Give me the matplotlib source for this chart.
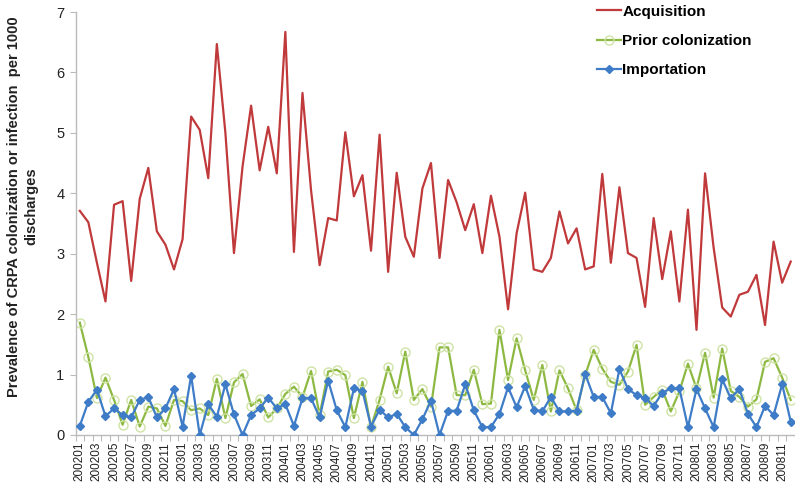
import matplotlib
matplotlib.use("Agg")
import matplotlib.pyplot as plt
import numpy as np

plt.rcParams['font.family'] = ['Liberation Sans', 'DejaVu Sans']

months = [f"{y}{m:02d}" for y in range(2002, 2009) for m in range(1, 13)]

acquisition = [3.71, 3.52, 2.85, 2.21, 3.81, 3.87, 2.55, 3.91, 4.42, 3.37, 3.15, 2.74,
               3.24, 5.27, 5.05, 4.25, 6.47, 5.00, 3.01, 4.44, 5.45, 4.38, 5.10, 4.33,
               6.67, 3.03, 5.66, 4.05, 2.81, 3.59, 3.55, 5.01, 3.95, 4.30, 3.05, 4.97,
               2.70, 4.34, 3.28, 2.95, 4.08, 4.50, 2.93, 4.22, 3.85, 3.39, 3.82, 3.01,
               3.96, 3.28, 2.08, 3.34, 4.01, 2.74, 2.70, 2.93, 3.70, 3.17, 3.42, 2.74,
               2.79, 4.32, 2.85, 4.10, 3.01, 2.93, 2.12, 3.59, 2.58, 3.37, 2.21, 3.73,
               1.74, 4.33, 3.10, 2.11, 1.96, 2.32, 2.37, 2.65, 1.82, 3.20, 2.52, 2.87]

prior_colonization = [1.86, 1.29, 0.61, 0.95, 0.58, 0.17, 0.58, 0.14, 0.47, 0.44, 0.15, 0.58,
                      0.56, 0.41, 0.44, 0.33, 0.93, 0.28, 0.87, 1.01, 0.48, 0.59, 0.29, 0.44,
                      0.68, 0.80, 0.63, 1.06, 0.33, 1.05, 1.08, 0.99, 0.28, 0.88, 0.13, 0.58,
                      1.13, 0.69, 1.38, 0.58, 0.76, 0.47, 1.45, 1.45, 0.66, 0.66, 1.08, 0.51,
                      0.52, 1.74, 0.91, 1.60, 1.07, 0.58, 1.16, 0.39, 1.07, 0.77, 0.41, 0.99,
                      1.41, 1.10, 0.88, 0.83, 1.05, 1.49, 0.50, 0.63, 0.75, 0.39, 0.72, 1.18,
                      0.77, 1.36, 0.62, 1.43, 0.73, 0.63, 0.47, 0.59, 1.21, 1.27, 0.95, 0.58]

importation = [0.15, 0.55, 0.75, 0.31, 0.44, 0.33, 0.29, 0.58, 0.63, 0.29, 0.44, 0.76,
               0.14, 0.98, 0.00, 0.51, 0.30, 0.84, 0.34, 0.00, 0.33, 0.44, 0.62, 0.44,
               0.51, 0.15, 0.61, 0.61, 0.29, 0.90, 0.41, 0.13, 0.77, 0.73, 0.14, 0.42,
               0.29, 0.35, 0.13, 0.00, 0.26, 0.57, 0.00, 0.40, 0.40, 0.84, 0.41, 0.13,
               0.13, 0.35, 0.79, 0.46, 0.81, 0.42, 0.39, 0.63, 0.39, 0.39, 0.40, 1.01,
               0.63, 0.63, 0.36, 1.09, 0.76, 0.66, 0.61, 0.48, 0.70, 0.77, 0.77, 0.13,
               0.76, 0.44, 0.13, 0.92, 0.61, 0.76, 0.35, 0.13, 0.48, 0.33, 0.84, 0.22]

series_names = ["Acquisition", "Prior colonization", "Importation"]
y_label = "Prevalence of CRPA colonization or infection  per 1000\ndischarges"

fig = plt.figure(figsize=(7.95, 4.88), dpi=100)
ax = fig.add_axes([75.5 / 795, 53 / 488, (795 - 75.5) / 795, (435 - 12) / 488])

x = np.arange(len(months))
ax.plot(x, acquisition, color="#C0393B", lw=1.6, label=series_names[0], zorder=3)
ax.plot(x, prior_colonization, color="#8DB943", lw=1.6, marker="o", ms=6.5,
        mfc="none", mec="#CFE3A6", mew=1.0, label=series_names[1], zorder=2)
ax.plot(x, importation, color="#3F7CC7", lw=1.6, marker="D", ms=4.5,
        mfc="#3F7CC7", mec="#3F7CC7", label=series_names[2], zorder=4)

ax.set_xlim(-0.5, len(months) - 0.5)
ax.set_ylim(0, 7)
ax.set_yticks(range(0, 8))
ax.set_xticks(x[::2])
ax.set_xticklabels(months[::2], rotation=90, fontsize=8.5, color="#222222")
ax.set_xticks(np.arange(-0.5, len(months), 1), minor=True)
ax.tick_params(axis="x", which="major", length=0, pad=5)
ax.tick_params(axis="x", which="minor", length=4, color="#BBBBBB", width=0.8)
ax.tick_params(axis="y", length=4, color="#BBBBBB", width=0.8, labelsize=10.5,
               labelcolor="#222222", pad=4)

for s in ["top", "right"]:
    ax.spines[s].set_visible(False)
for s in ["left", "bottom"]:
    ax.spines[s].set_color("#BBBBBB")
    ax.spines[s].set_linewidth(1.0)

ax.set_ylabel(y_label, fontsize=10.5, fontweight="bold", color="#222222",
              linespacing=1.3)
ax.yaxis.set_label_coords(-0.052, 0.54)

leg = ax.legend(loc="upper left", bbox_to_anchor=(0.716, 1.032), frameon=False,
                prop={"weight": "bold", "size": 11}, handlelength=1.6,
                handletextpad=0.08, labelspacing=1.0, borderaxespad=0)

fig.savefig("out.png", dpi=100)
